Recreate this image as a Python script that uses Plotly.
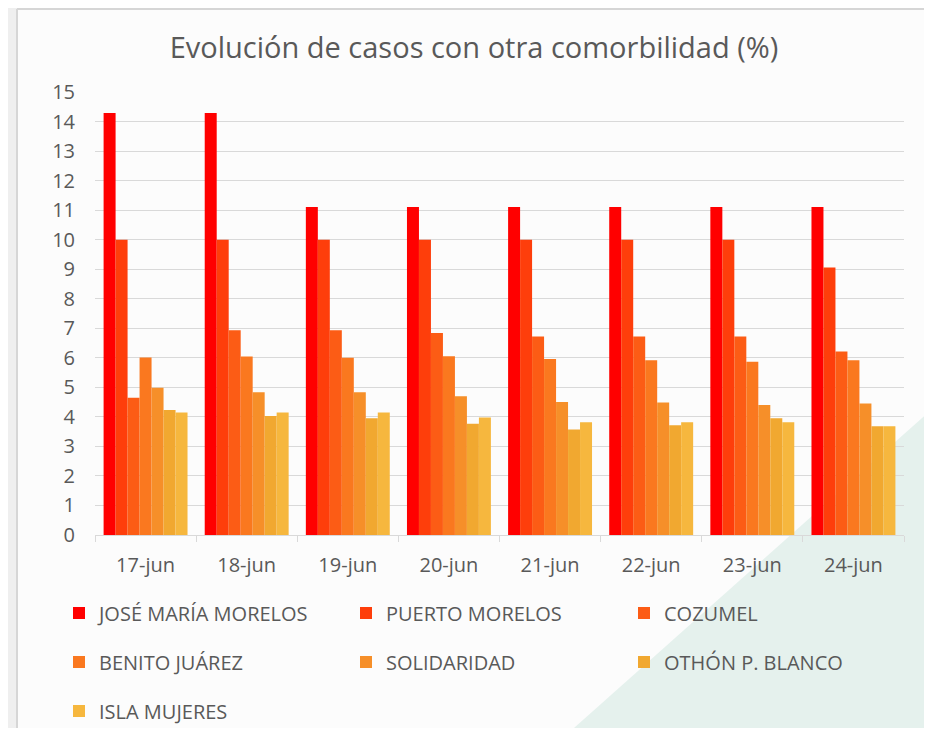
import plotly.graph_objects as go

dates = ["17-jun", "18-jun", "19-jun", "20-jun", "21-jun", "22-jun", "23-jun", "24-jun"]

jose_maria_morelos = [14.29, 14.29, 11.11, 11.11, 11.11, 11.11, 11.11, 11.11]
puerto_morelos = [10.0, 10.0, 10.0, 10.0, 10.0, 10.0, 10.0, 9.06]
cozumel = [4.65, 6.93, 6.93, 6.84, 6.72, 6.72, 6.72, 6.21]
benito_juarez = [6.01, 6.04, 6.0, 6.05, 5.96, 5.92, 5.87, 5.92]
solidaridad = [4.99, 4.83, 4.83, 4.70, 4.50, 4.49, 4.40, 4.45]
othon_p_blanco = [4.23, 4.03, 3.95, 3.77, 3.57, 3.72, 3.95, 3.68]
isla_mujeres = [4.15, 4.15, 4.15, 3.98, 3.82, 3.82, 3.82, 3.68]

series_names = ["JOSÉ MARÍA MORELOS", "PUERTO MORELOS", "COZUMEL", "BENITO JUÁREZ",
                "SOLIDARIDAD", "OTHÓN P. BLANCO", "ISLA MUJERES"]
series_values = [jose_maria_morelos, puerto_morelos, cozumel, benito_juarez,
                 solidaridad, othon_p_blanco, isla_mujeres]
colors = ["#FF0000", "#FE3E0B", "#FC5C15", "#FA781F", "#F68F29", "#F1A830", "#F6B73E"]

# figure is placed by the page at an 8px offset; work in figure pixels
OFF = 8
W, H = 924, 720
L, R, T, B = 87, 28, 84, 193
pw, ph = W - L - R, H - T - B

def px(x):  # screen x -> paper
    return (x - OFF - L) / pw

def py(y):  # screen y -> paper
    return (H - B - (y - OFF)) / ph

def cx(x):  # screen x -> container
    return (x - OFF) / W

def cy(y):  # screen y -> container
    return 1 - (y - OFF) / H

FONT = "Open Sans"
TXT = "#595959"

legend_ids = ["legend"] + [f"legend{i}" for i in range(2, 8)]
# legend item screen positions (left of box, row centre)
legend_pos = [(59, 613), (346, 613), (624, 613),
              (59, 662), (346, 662), (624, 662),
              (59, 711)]

fig = go.Figure()
for name, vals, col, lg in zip(series_names, series_values, colors, legend_ids):
    fig.add_trace(go.Bar(x=dates, y=vals, name=name, marker=dict(color=col, line=dict(width=0)),
                         legend=lg, showlegend=True))

shapes = [
    dict(type="rect", xref="paper", yref="paper", x0=px(0), x1=px(17), y0=py(800), y1=py(0),
         fillcolor="#EFEFEF", line=dict(width=0), layer="below"),
    dict(type="path", xref="paper", yref="paper",
         path=f"M {px(565)} {py(736)} L {px(940)} {py(736)} L {px(940)} {py(402)} Z",
         fillcolor="#E5F1ED", line=dict(width=0), layer="below"),
    dict(type="line", xref="paper", yref="paper", x0=px(17), x1=px(940), y0=py(9), y1=py(9),
         line=dict(color="#D6D6D6", width=2), layer="below"),
    dict(type="line", xref="paper", yref="paper", x0=px(17), x1=px(17), y0=py(9), y1=py(800),
         line=dict(color="#D6D6D6", width=2), layer="below"),
]

legends = {}
for lg, (lx, ly) in zip(legend_ids, legend_pos):
    legends[lg] = dict(orientation="h", xref="container", yref="container",
                       x=cx(lx), y=cy(ly), xanchor="left", yanchor="middle",
                       font=dict(family=FONT, size=20, color=TXT), bgcolor="rgba(0,0,0,0)",
                       itemclick=False, itemdoubleclick=False, visible=True)

fig.update_layout(
    width=W, height=H,
    showlegend=True,
    margin=dict(l=L, r=R, t=T, b=B, autoexpand=False),
    paper_bgcolor="#FCFCFC",
    plot_bgcolor="rgba(0,0,0,0)",
    title=dict(text="Evolución de casos con otra comorbilidad (%)", xref="container",
               x=cx(474), xanchor="center", yref="container",
               y=cy(48), yanchor="middle", font=dict(family=FONT, size=29, color=TXT)),
    barmode="group", bargap=0.17, bargroupgap=0,
    xaxis=dict(showgrid=False, showline=True, linecolor="#D9D9D9", linewidth=1,
               ticks="outside", tickson="boundaries", ticklen=6, tickcolor="#D9D9D9",
               tickfont=dict(family=FONT, size=20, color=TXT), ticklabelstandoff=12),
    yaxis=dict(range=[0, 15], dtick=1, showgrid=True, gridcolor="#D9D9D9", gridwidth=1,
               zeroline=False, showline=False, ticks="",
               tickfont=dict(family=FONT, size=20, color=TXT), ticklabelstandoff=19),
    shapes=shapes,
    font=dict(family=FONT, color=TXT),
    **legends,
)

fig.write_html("out.html")
